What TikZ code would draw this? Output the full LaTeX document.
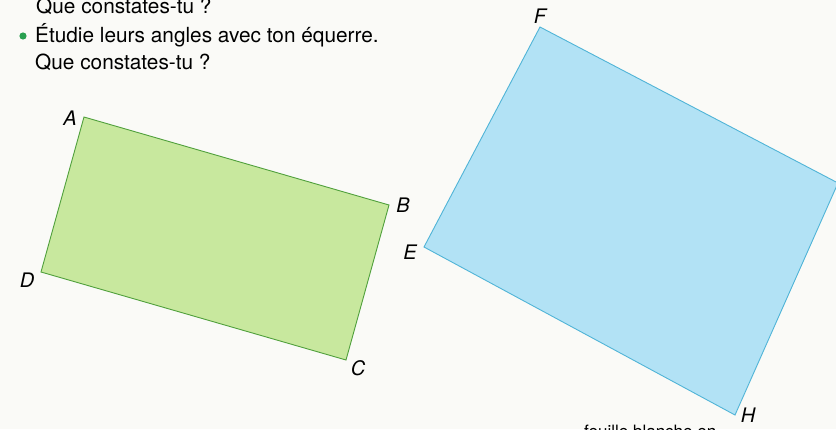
\documentclass[tikz,border=0pt]{standalone}
\usepackage{fontspec}
\setmainfont{TeX Gyre Heros}
\definecolor{paper}{RGB}{250,250,247}
\definecolor{greenfill}{RGB}{200,232,158}
\definecolor{greenline}{RGB}{80,160,60}
\definecolor{bluefill}{RGB}{178,226,245}
\definecolor{blueline}{RGB}{80,180,215}
\definecolor{bulletgreen}{RGB}{40,160,80}
\begin{document}
\begin{tikzpicture}[x=1pt,y=-1pt,
  txt/.style={anchor=base west,inner sep=0pt,font=\fontsize{20.8}{24}\selectfont},
  lbl/.style={inner sep=0pt,font=\fontsize{20}{24}\selectfont\itshape},
  greenrect/.style={fill=greenfill,draw=greenline,line width=0.9pt,line join=miter},
  bluerect/.style={fill=bluefill,draw=blueline,line width=0.9pt,line join=miter}]
\useasboundingbox (0,0) rectangle (836,429);
\clip (0,0) rectangle (836,429);
\fill[paper] (0,0) rectangle (836,429);
% text
\node[txt] (t1) at (36,13) {Que constates-tu ?};
\fill[bulletgreen] (23,36) circle (3.6);
\node[txt] (t2) at (35,42) {Étudie leurs angles avec ton équerre.};
\node[txt] (t3) at (35,69) {Que constates-tu ?};
\node[txt,font=\fontsize{17}{20}\selectfont] (t4) at (584,437) {feuille blanche en};
% green rectangle
\coordinate (A) at (84,117);
\coordinate (B) at (389,205);
\coordinate (C) at (346,360);
\coordinate (D) at (41,272);
\draw[greenrect] (A) -- (B) -- (C) -- (D) -- cycle;
% blue rectangle
\coordinate (F) at (540,27);
\coordinate (R) at (838,183);
\coordinate (H) at (735,415);
\coordinate (E) at (424,247);
\draw[bluerect] (F) -- (R) -- (H) -- (E) -- cycle;
% labels
\node[lbl] (lA) at (70,118) {A};
\node[lbl] (lB) at (403,205) {B};
\node[lbl] (lC) at (358,368) {C};
\node[lbl] (lD) at (27,280) {D};
\node[lbl] (lE) at (410,252) {E};
\node[lbl] (lF) at (540,16) {F};
\node[lbl] (lH) at (748,415) {H};
\end{tikzpicture}
\end{document}
